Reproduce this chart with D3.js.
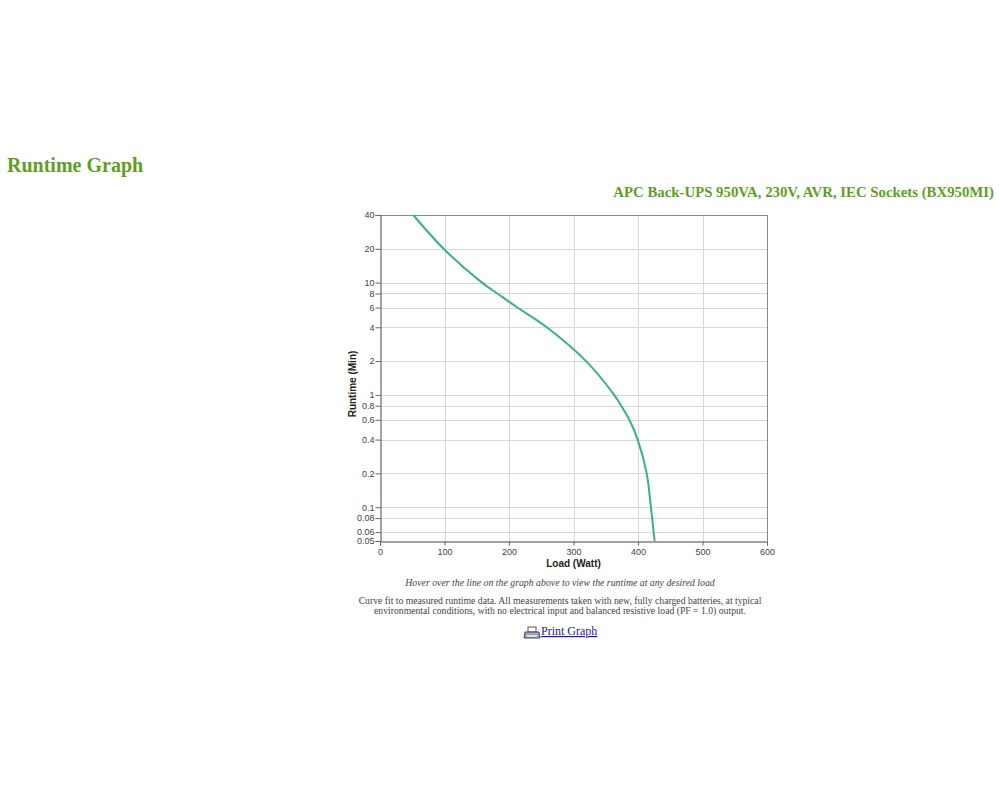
<!DOCTYPE html>
<html><head><meta charset="utf-8">
<script src="https://cdn.jsdelivr.net/npm/d3@7"></script>
<style>
body{margin:0;background:#fff;}
svg{display:block;}
</style></head>
<body>
<svg id="c" width="1000" height="800"></svg>
<script>
const loadW = [51.6, 98.7, 158, 182, 213, 258.5, 319.4, 363, 374, 386.6, 399.5, 413.5, 420, 425.8];
const runtimeMin = [40, 20, 10, 8, 6, 4, 2, 1, 0.8, 0.6, 0.4, 0.2, 0.1, 0.05];
const xTicks = [0, 100, 200, 300, 400, 500, 600];
const yTicks = [0.05, 0.06, 0.08, 0.1, 0.2, 0.4, 0.6, 0.8, 1, 2, 4, 6, 8, 10, 20, 40];

const svg = d3.select('#c');
const L = 380, R = 767, T = 215, B = 541;
const x = d3.scaleLinear().domain([0, 600]).range([L, R]);
const y = d3.scaleLog().domain([0.05, 40]).range([B, T]);

// titles
svg.append('text').attr('x', 7).attr('y', 172).attr('font-family', 'Liberation Serif, Times New Roman, serif')
  .attr('font-weight', 'bold').attr('font-size', 20).attr('fill', '#5e9f22').text('Runtime Graph');
svg.append('text').attr('x', 994).attr('y', 197).attr('text-anchor', 'end').attr('font-family', 'Liberation Serif, Times New Roman, serif')
  .attr('font-weight', 'bold').attr('font-size', 14.8).attr('fill', '#5e9f22').text('APC Back-UPS 950VA, 230V, AVR, IEC Sockets (BX950MI)');

const g = svg.append('g');
// gridlines
g.selectAll('.gx').data(xTicks.slice(1, -1)).enter().append('line')
  .attr('x1', d => Math.round(x(d)) + 0.5).attr('x2', d => Math.round(x(d)) + 0.5).attr('y1', T).attr('y2', B)
  .attr('stroke', '#d8d8d8').attr('stroke-width', 1);
g.selectAll('.gy').data(yTicks.slice(1, -1)).enter().append('line')
  .attr('x1', L).attr('x2', R).attr('y1', d => Math.round(y(d)) + 0.5).attr('y2', d => Math.round(y(d)) + 0.5)
  .attr('stroke', '#d8d8d8').attr('stroke-width', 1);
// frame top/right
g.append('line').attr('x1', L).attr('x2', R + 0.5).attr('y1', T + 0.5).attr('y2', T + 0.5).attr('stroke', '#888');
g.append('line').attr('x1', R + 0.5).attr('x2', R + 0.5).attr('y1', T).attr('y2', B).attr('stroke', '#888');

// axes
const xAxis = d3.axisBottom(x).tickValues(xTicks).tickSize(4).tickFormat(d3.format('d'));
const gx = svg.append('g').attr('transform', `translate(0,${B + 0.5})`).call(xAxis);
const yAxis = d3.axisLeft(y).tickValues(yTicks).tickSize(5).tickFormat(d => String(d));
const gy = svg.append('g').attr('transform', `translate(${L + 0.5},0)`).call(yAxis);
[gx, gy].forEach(a => {
  a.select('.domain').attr('stroke', '#444');
  a.selectAll('.tick line').attr('stroke', '#666');
  a.selectAll('.tick text').attr('font-family', 'Liberation Sans, Arial, sans-serif').attr('font-size', 9).attr('fill', '#444');
});
gy.selectAll('.tick text').attr('x', -6);

// axis titles
svg.append('text').attr('x', (L + R) / 2).attr('y', 567).attr('text-anchor', 'middle')
  .attr('font-family', 'Liberation Sans, Arial, sans-serif').attr('font-weight', 'bold').attr('font-size', 10).attr('fill', '#222').text('Load (Watt)');
svg.append('text').attr('transform', `translate(356,${(T + B) / 2 + 6}) rotate(-90)`).attr('text-anchor', 'middle')
  .attr('font-family', 'Liberation Sans, Arial, sans-serif').attr('font-weight', 'bold').attr('font-size', 10).attr('fill', '#222').text('Runtime (Min)');

// curve
const line = d3.line().x((d, i) => x(loadW[i])).y((d, i) => y(runtimeMin[i])).curve(d3.curveCatmullRom.alpha(0.5));
svg.append('path').datum(runtimeMin).attr('d', line).attr('fill', 'none').attr('stroke', '#35b57a').attr('stroke-width', 2);

// notes
const serif = 'Liberation Serif, Times New Roman, serif';
svg.append('text').attr('x', 560).attr('y', 586).attr('text-anchor', 'middle').attr('font-family', serif).attr('font-style', 'italic')
  .attr('font-size', 9.8).attr('fill', '#444').text('Hover over the line on the graph above to view the runtime at any desired load');
svg.append('text').attr('x', 560).attr('y', 604).attr('text-anchor', 'middle').attr('font-family', serif)
  .attr('font-size', 9.7).attr('fill', '#444').text('Curve fit to measured runtime data. All measurements taken with new, fully charged batteries, at typical');
svg.append('text').attr('x', 560).attr('y', 614).attr('text-anchor', 'middle').attr('font-family', serif)
  .attr('font-size', 9.7).attr('fill', '#444').text('environmental conditions, with no electrical input and balanced resistive load (PF = 1.0) output.');

// printer icon
const ic = svg.append('g').attr('transform', 'translate(525,627)');
ic.append('rect').attr('x', 3).attr('y', 0).attr('width', 8).attr('height', 5).attr('fill', '#fff').attr('stroke', '#556');
ic.append('path').attr('d', 'M0,5 L14,5 L15,11 L-1,11 Z').attr('fill', '#9aa7b8').attr('stroke', '#445');
ic.append('rect').attr('x', 2).attr('y', 8).attr('width', 10).attr('height', 2).attr('fill', '#dde');
svg.append('text').attr('x', 541).attr('y', 635).attr('font-family', serif).attr('font-size', 12).attr('fill', '#1a1aa6')
  .attr('text-decoration', 'underline').text('Print Graph');
</script>
</body></html>
